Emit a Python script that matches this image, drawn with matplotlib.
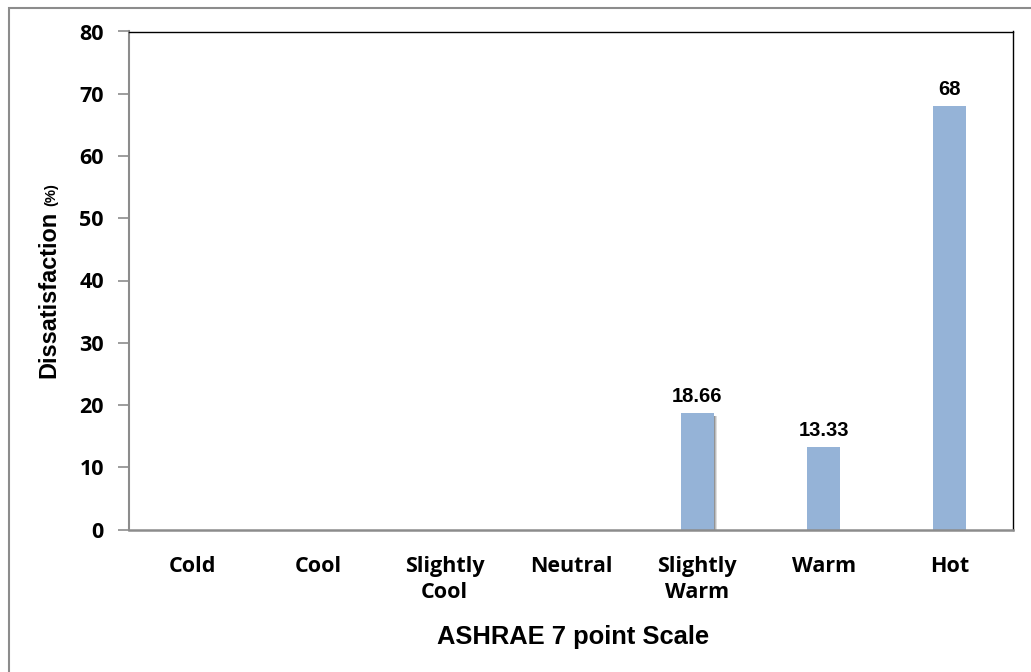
import matplotlib.pyplot as plt
from matplotlib.patches import Rectangle

# ASHRAE thermal sensation categories and dissatisfaction share (%)
categories = ['Cold', 'Cool', 'Slightly\nCool', 'Neutral', 'Slightly\nWarm', 'Warm', 'Hot']
dissatisfaction = [0, 0, 0, 0, 18.66, 13.33, 68]
value_labels = ['', '', '', '', '18.66', '13.33', '68']
y_ticks = [0, 10, 20, 30, 40, 50, 60, 70, 80]

bar_color = '#95B3D7'
grey = '#8c8c8c'
tick_font = 'Open Sans'
title_font = 'Liberation Sans'

fig = plt.figure(figsize=(10.31, 6.72), dpi=100)
ax = fig.add_axes([129 / 1031, 1 - 529.5 / 672, (1013 - 129) / 1031, (529.5 - 31.5) / 672])

x = list(range(len(categories)))
width = 0.26

# soft shadow on the right of the Slightly Warm bar
sw = categories.index('Slightly\nWarm')
for i, a in enumerate([0.30, 0.22, 0.15, 0.09, 0.04]):
    off = 0.006 * (i + 1)
    ax.bar(x[sw] + off, dissatisfaction[sw] - 0.4, width, bottom=0,
           color='black', alpha=a, linewidth=0, zorder=1)

bars = ax.bar(x, dissatisfaction, width, color=bar_color, linewidth=0, zorder=2)

for b, lab in zip(bars, value_labels):
    if lab:
        ax.annotate(lab, (b.get_x() + b.get_width() / 2, b.get_height()),
                    xytext=(0, 5), textcoords='offset points', ha='center', va='bottom',
                    fontsize=14.5, fontweight='bold', family=title_font)

ax.set_xlim(-0.5, len(categories) - 0.5)
ax.set_ylim(0, 80)
ax.set_yticks(y_ticks)
ax.set_yticklabels([str(t) for t in y_ticks], fontsize=15.5, fontweight='bold', family=tick_font)
ax.set_xticks(x)
ax.set_xticklabels(categories, fontsize=15.5, fontweight='bold', family=tick_font, linespacing=1.3)
ax.tick_params(axis='x', length=0, pad=19)
ax.tick_params(axis='y', length=8, width=1.2, color=grey, pad=10)
for lbl in ax.get_xticklabels():
    lbl.set_verticalalignment('top')

ax.spines['left'].set_color(grey)
ax.spines['left'].set_linewidth(1.5)
ax.spines['bottom'].set_color(grey)
ax.spines['bottom'].set_linewidth(1.8)
ax.spines['top'].set_color('black')
ax.spines['top'].set_linewidth(1.0)
ax.spines['right'].set_color('black')
ax.spines['right'].set_linewidth(1.0)

# y axis title with a smaller unit part
t1 = fig.text(55 / 1031, 1 - 378 / 672, 'Dissatisfaction', rotation=90,
              rotation_mode='anchor', ha='left', va='baseline',
              fontsize=16.9, fontweight='bold', family=title_font)
fig.text(55 / 1031, 1 - 206 / 672, '(%)', rotation=90,
         rotation_mode='anchor', ha='left', va='baseline',
         fontsize=10.6, fontweight='bold', family=title_font)

fig.text(573 / 1031, 1 - 637 / 672, 'ASHRAE 7 point Scale', ha='center', va='center',
         fontsize=18.4, fontweight='bold', family=title_font)

# outer chart frame
fig.patches.append(Rectangle((8.5 / 1031, -0.05), 1.1, 1 - 8 / 672 + 0.05,
                             transform=fig.transFigure, fill=False,
                             edgecolor=grey, linewidth=1.5))

fig.savefig('out.png', dpi=100)
